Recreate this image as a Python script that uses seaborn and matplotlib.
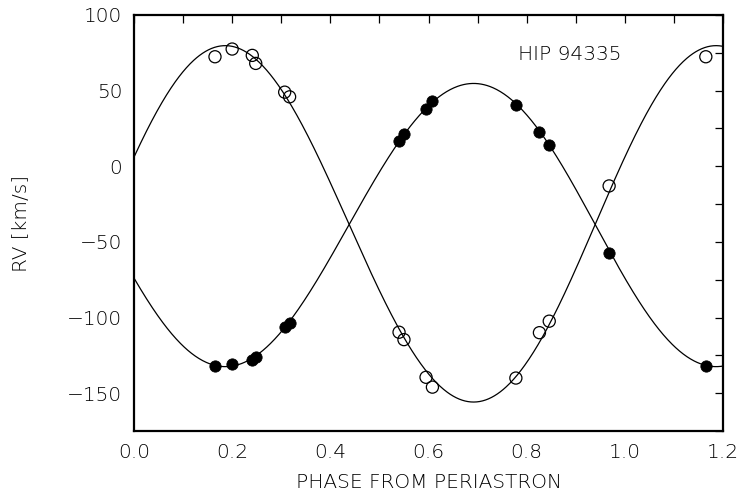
import numpy as np
import pandas as pd
import matplotlib
matplotlib.use("Agg")
import matplotlib.pyplot as plt
from matplotlib.ticker import MultipleLocator, FormatStrFormatter
import seaborn as sns

phase = [0.165, 0.200, 0.241, 0.248, 0.307, 0.317, 0.540, 0.550,
         0.595, 0.608, 0.778, 0.826, 0.846, 0.968, 1.165]
rv_open = [72.4, 77.5, 73.3, 68.0, 49.0, 45.9, -109.7, -114.6,
           -139.5, -146.0, -140.0, -110.0, -102.4, -13.0, 72.4]
rv_filled = [-131.8, -130.7, -128.0, -125.8, -106.4, -103.3, 16.8, 21.6,
             38.0, 43.3, 40.6, 22.5, 14.1, -57.4, -131.8]

# ---- orbital elements of the fitted curves ----
ecc = 0.01
omega_deg = 292.0
K_open = 117.8
K_filled = 93.6
gamma = -38.5

label_x = "PHASE FROM PERIASTRON"
label_y = "RV [km/s]"
title_text = "HIP 94335"
xticks = [0.0, 0.2, 0.4, 0.6, 0.8, 1.0, 1.2]
yticks = [-150, -100, -50, 0, 50, 100]


def kepler_rv(ph, K, om):
    M = 2 * np.pi * np.asarray(ph)
    E = M.copy()
    for _ in range(50):
        E = E - (E - ecc * np.sin(E) - M) / (1 - ecc * np.cos(E))
    nu = 2 * np.arctan2(np.sqrt(1 + ecc) * np.sin(E / 2),
                        np.sqrt(1 - ecc) * np.cos(E / 2))
    return gamma + K * (np.cos(nu + om) + ecc * np.cos(om))


sns.set_style("white")
plt.rcParams["font.family"] = ["DejaVu Sans"]
plt.rcParams["font.weight"] = "light"
plt.rcParams["axes.unicode_minus"] = True
plt.rcParams["text.color"] = "black"
plt.rcParams["axes.labelcolor"] = "black"

fig = plt.figure(figsize=(7.41, 4.93), dpi=100)
ax = fig.add_axes([134 / 741, 1 - 431 / 493, (723 - 134) / 741, (431 - 15) / 493])

grid = np.linspace(0, 1.2, 800)
om1 = np.deg2rad(omega_deg)
om2 = om1 + np.pi
curves = pd.DataFrame({
    "phase": np.concatenate([grid, grid]),
    "rv": np.concatenate([kepler_rv(grid, K_open, om1), kepler_rv(grid, K_filled, om2)]),
    "comp": ["open"] * len(grid) + ["filled"] * len(grid),
})
sns.lineplot(data=curves, x="phase", y="rv", units="comp", estimator=None,
             color="black", linewidth=0.9, ax=ax, sort=False)

df = pd.DataFrame({"phase": phase, "open": rv_open, "filled": rv_filled})
sns.scatterplot(data=df, x="phase", y="filled", color="black", s=66,
                edgecolor="black", linewidth=0.6, ax=ax, zorder=3)
sns.scatterplot(data=df, x="phase", y="open", facecolor="none", s=76,
                edgecolor="black", linewidth=0.9, ax=ax, zorder=3)

ax.set_xlim(0, 1.2)
ax.set_ylim(-175, 100)
ax.set_xticks(xticks)
ax.set_yticks(yticks)
ax.xaxis.set_minor_locator(MultipleLocator(0.1))
ax.yaxis.set_minor_locator(MultipleLocator(25))
ax.xaxis.set_major_formatter(FormatStrFormatter("%.1f"))
ax.tick_params(which="both", direction="in", top=True, right=True,
               length=6, width=0.9, color="black")
ax.tick_params(which="major", labelsize=14.5, pad=8.5, labelcolor="black")
for lab in ax.get_xticklabels() + ax.get_yticklabels():
    lab.set_fontweight("light")
for sp in ax.spines.values():
    sp.set_linewidth(1.6)
    sp.set_color("black")

ax.set_xlabel(label_x, fontsize=14.5, labelpad=8, fontweight="light")
ax.set_ylabel(label_y, fontsize=14.5, labelpad=26, fontweight="light")
ax.text(0.782, 70, title_text, fontsize=14.5, va="baseline", ha="left",
        fontweight="light")

fig.savefig("out.png", dpi=100)
